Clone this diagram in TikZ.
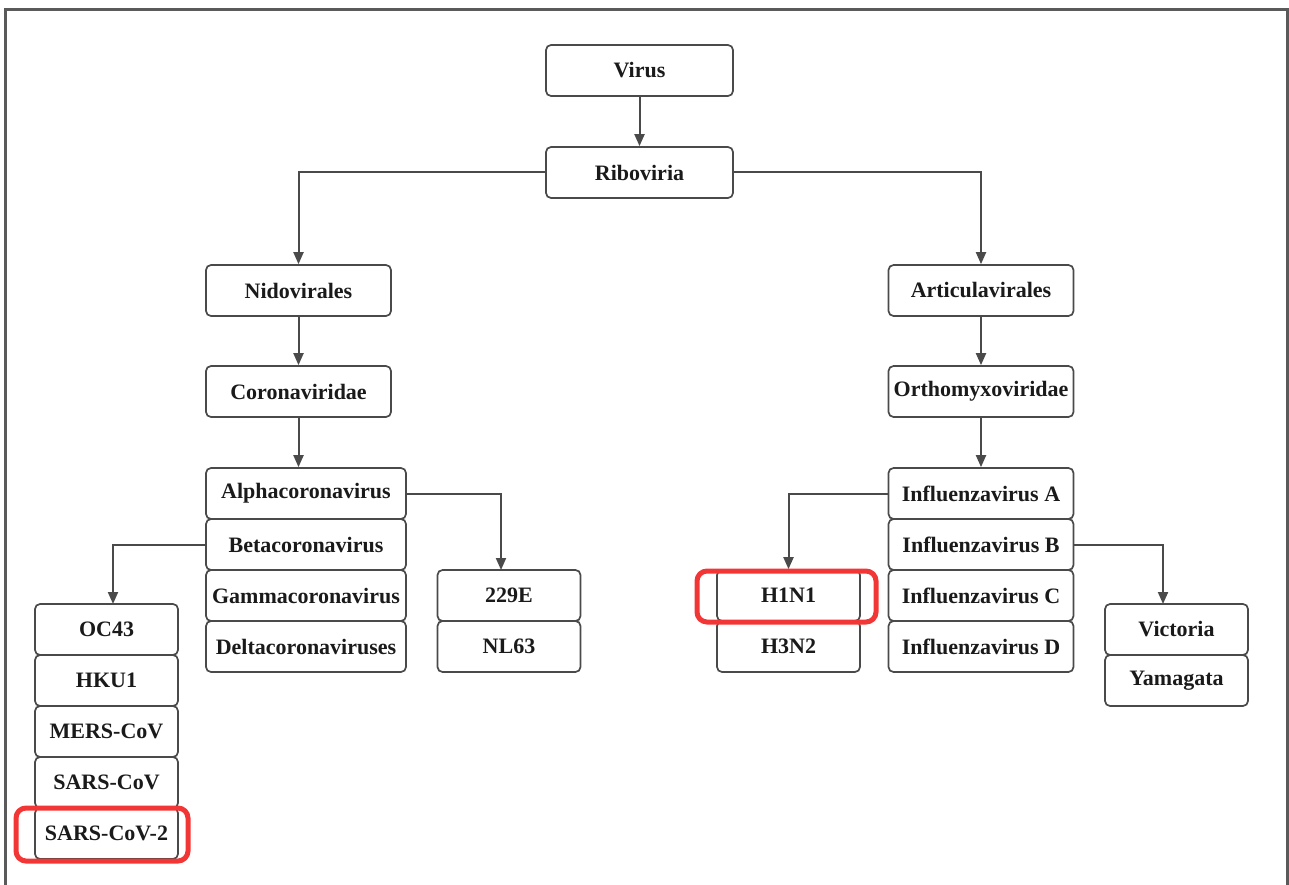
\documentclass[tikz,border=0pt]{standalone}
\usepackage{fontspec}
\setmainfont{Liberation Serif}[BoldFont={Liberation Serif Bold}]
\usetikzlibrary{arrows.meta}
\definecolor{boxline}{HTML}{4A4A4A}
\definecolor{txt}{HTML}{1A1A1A}
\definecolor{hl}{HTML}{F23535}
\definecolor{frame}{HTML}{5A5A5A}
\begin{document}
\begin{tikzpicture}[x=1pt,y=-1pt,
  taxon/.style={draw=boxline, line width=1.7pt, rounded corners=5pt, fill=white,
    minimum height=51pt, inner sep=0pt, text=txt,
    font=\fontsize{22}{26}\selectfont\bfseries},
  w187/.style={minimum width=187pt},
  w185/.style={minimum width=185pt},
  w200/.style={minimum width=200pt},
  w143/.style={minimum width=143pt},
  link/.style={draw=boxline, line width=2pt, -{Triangle[length=12pt,width=10pt]}},
  mark red/.style={draw=hl, line width=5pt, rounded corners=10pt}]
\useasboundingbox (0,0) rectangle (1289,885);
% frame
\draw[frame, line width=3pt] (5.5,885) -- (5.5,9.5) -- (1287.5,9.5) -- (1287.5,885);

% top
\node[taxon,w187] (virus) at (639.5,70.5) {Virus};
\node[taxon,w187] (ribo) at (639.5,172.5) {Riboviria};
\node[taxon,w185] (nido) at (298.5,290.5) {Nidovirales};
\node[taxon,w185] (artic) at (981,290.5) {Articulavirales};
\node[taxon,w185] (corona) at (298.5,391.5) {Coronaviridae};
\node[taxon,w185] (ortho) at (981,391.5) {Orthomyxoviridae};

% corona genera
\node[taxon,w200] (alpha) at (306,493.5) {Alphacoronavirus};
\node[taxon,w200] (beta) at (306,544.5) {Betacoronavirus};
\node[taxon,w200] (gamma) at (306,595.5) {Gammacoronavirus};
\node[taxon,w200] (delta) at (306,646.5) {Deltacoronaviruses};

\node[taxon,w143] (e229) at (509,595.5) {229E};
\node[taxon,w143] (nl63) at (509,646.5) {NL63};

\node[taxon,w143] (oc43) at (106.5,629.5) {OC43};
\node[taxon,w143] (hku1) at (106.5,680.5) {HKU1};
\node[taxon,w143] (mers) at (106.5,731.5) {MERS-CoV};
\node[taxon,w143] (sars) at (106.5,782.5) {SARS-CoV};
\node[taxon,w143] (sars2) at (106.5,833.5) {SARS-CoV-2};

% influenza
\node[taxon,w185] (infa) at (981,493.5) {Influenzavirus A};
\node[taxon,w185] (infb) at (981,544.5) {Influenzavirus B};
\node[taxon,w185] (infc) at (981,595.5) {Influenzavirus C};
\node[taxon,w185] (infd) at (981,646.5) {Influenzavirus D};

\node[taxon,w143] (h1n1) at (788.5,595.5) {H1N1};
\node[taxon,w143] (h3n2) at (788.5,646.5) {H3N2};

\node[taxon,w143] (vic) at (1176.5,629.5) {Victoria};
\node[taxon,w143] (yam) at (1176.5,680.5) {Yamagata};

% connectors
\draw[link] (virus) -- (ribo);
\draw[link] (ribo.west) -| (nido.north);
\draw[link] (ribo.east) -| (artic.north);
\draw[link] (nido) -- (corona);
\draw[link] (artic) -- (ortho);
\draw[link] (corona.south) -- (corona.south |- alpha.north);
\draw[link] (ortho) -- (infa);

\coordinate (c229) at (501,570);
\draw[link] (alpha.east) -| (c229);
\coordinate (coc) at (113,604);
\draw[link] (beta.west) -| (coc);
\draw[link] (infa.west) -| (h1n1.north);
\coordinate (cvic) at (1163,604);
\draw[link] (infb.east) -| (cvic);

% highlights
\node[mark red, minimum width=172pt, minimum height=53pt, inner sep=0pt] (hl1) at (102,834.5) {};
\node[mark red, minimum width=179pt, minimum height=51pt, inner sep=0pt] (hl2) at (786.5,596.5) {};
\end{tikzpicture}
\end{document}
